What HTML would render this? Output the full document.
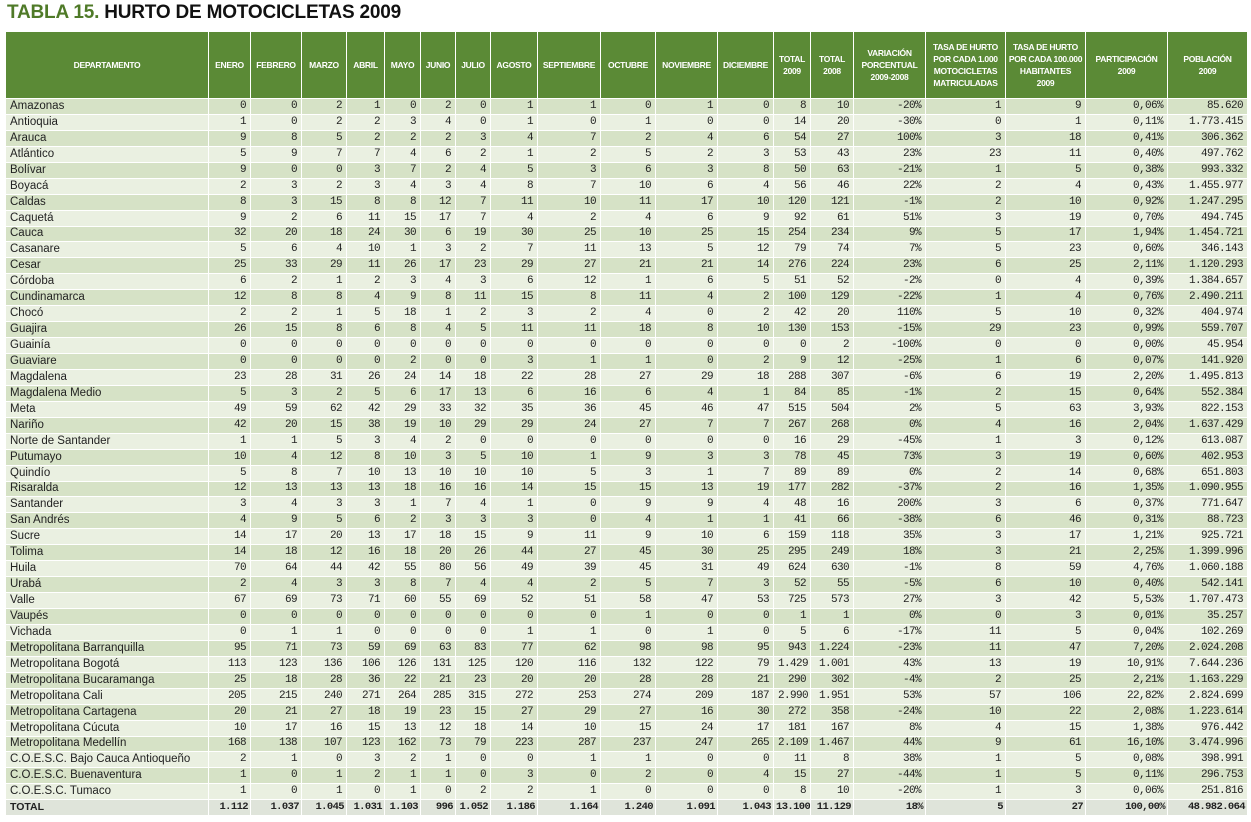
<!DOCTYPE html>
<html><head><meta charset="utf-8"><style>
body{margin:0;width:1251px;height:822px;background:#fff;overflow:hidden;font-family:"Liberation Sans",sans-serif}
.t{position:absolute;left:7px;top:2px;font-size:19px;font-weight:bold;color:#111;letter-spacing:-0.2px}
.t span{color:#4f7a28}
table{position:absolute;left:5px;top:31px;width:1242px;table-layout:fixed;border-collapse:collapse}
td,th{box-sizing:border-box;border:1px solid #fff;padding:0 4px;white-space:nowrap;overflow:hidden}
th{background:#5b8a36;color:#fff;font-size:8.5px;height:67px;line-height:12px;font-weight:bold;letter-spacing:-0.3px;padding:0 1px}
td{height:15.95px;line-height:13px;font-size:11px;font-family:"Liberation Mono",monospace;text-align:right;color:#222;letter-spacing:-0.6px}
td:first-child{font-family:"Liberation Sans",sans-serif;text-align:left;font-size:11.5px;letter-spacing:0}
tr:nth-child(even) td{background:#d6e2c6}
tr:nth-child(odd) td{background:#eaf0e1}
tr.tot td{background:#dfe4da;font-weight:bold;font-size:10.5px;padding:0 2px}
tr.tot td:first-child{font-weight:bold;padding:0 4px}
</style></head><body>
<div class="t"><span>TABLA 15.</span> HURTO DE MOTOCICLETAS 2009</div>
<table>
<colgroup><col style="width:203px"><col style="width:42px"><col style="width:51px"><col style="width:45px"><col style="width:38px"><col style="width:36px"><col style="width:35px"><col style="width:35px"><col style="width:47px"><col style="width:63px"><col style="width:55px"><col style="width:62px"><col style="width:56px"><col style="width:37px"><col style="width:43px"><col style="width:72px"><col style="width:80px"><col style="width:80px"><col style="width:82px"><col style="width:80px"></colgroup>
<tr><th>DEPARTAMENTO</th><th>ENERO</th><th>FEBRERO</th><th>MARZO</th><th>ABRIL</th><th>MAYO</th><th>JUNIO</th><th>JULIO</th><th>AGOSTO</th><th>SEPTIEMBRE</th><th>OCTUBRE</th><th>NOVIEMBRE</th><th>DICIEMBRE</th><th>TOTAL<br>2009</th><th>TOTAL<br>2008</th><th>VARIACIÓN<br>PORCENTUAL<br>2009-2008</th><th>TASA DE HURTO<br>POR CADA 1.000<br>MOTOCICLETAS<br>MATRICULADAS</th><th>TASA DE HURTO<br>POR CADA 100.000<br>HABITANTES<br>2009</th><th>PARTICIPACIÓN<br>2009</th><th>POBLACIÓN<br>2009</th></tr>
<tr><td>Amazonas</td><td>0</td><td>0</td><td>2</td><td>1</td><td>0</td><td>2</td><td>0</td><td>1</td><td>1</td><td>0</td><td>1</td><td>0</td><td>8</td><td>10</td><td>-20%</td><td>1</td><td>9</td><td>0,06%</td><td>85.620</td></tr>
<tr><td>Antioquia</td><td>1</td><td>0</td><td>2</td><td>2</td><td>3</td><td>4</td><td>0</td><td>1</td><td>0</td><td>1</td><td>0</td><td>0</td><td>14</td><td>20</td><td>-30%</td><td>0</td><td>1</td><td>0,11%</td><td>1.773.415</td></tr>
<tr><td>Arauca</td><td>9</td><td>8</td><td>5</td><td>2</td><td>2</td><td>2</td><td>3</td><td>4</td><td>7</td><td>2</td><td>4</td><td>6</td><td>54</td><td>27</td><td>100%</td><td>3</td><td>18</td><td>0,41%</td><td>306.362</td></tr>
<tr><td>Atlántico</td><td>5</td><td>9</td><td>7</td><td>7</td><td>4</td><td>6</td><td>2</td><td>1</td><td>2</td><td>5</td><td>2</td><td>3</td><td>53</td><td>43</td><td>23%</td><td>23</td><td>11</td><td>0,40%</td><td>497.762</td></tr>
<tr><td>Bolívar</td><td>9</td><td>0</td><td>0</td><td>3</td><td>7</td><td>2</td><td>4</td><td>5</td><td>3</td><td>6</td><td>3</td><td>8</td><td>50</td><td>63</td><td>-21%</td><td>1</td><td>5</td><td>0,38%</td><td>993.332</td></tr>
<tr><td>Boyacá</td><td>2</td><td>3</td><td>2</td><td>3</td><td>4</td><td>3</td><td>4</td><td>8</td><td>7</td><td>10</td><td>6</td><td>4</td><td>56</td><td>46</td><td>22%</td><td>2</td><td>4</td><td>0,43%</td><td>1.455.977</td></tr>
<tr><td>Caldas</td><td>8</td><td>3</td><td>15</td><td>8</td><td>8</td><td>12</td><td>7</td><td>11</td><td>10</td><td>11</td><td>17</td><td>10</td><td>120</td><td>121</td><td>-1%</td><td>2</td><td>10</td><td>0,92%</td><td>1.247.295</td></tr>
<tr><td>Caquetá</td><td>9</td><td>2</td><td>6</td><td>11</td><td>15</td><td>17</td><td>7</td><td>4</td><td>2</td><td>4</td><td>6</td><td>9</td><td>92</td><td>61</td><td>51%</td><td>3</td><td>19</td><td>0,70%</td><td>494.745</td></tr>
<tr><td>Cauca</td><td>32</td><td>20</td><td>18</td><td>24</td><td>30</td><td>6</td><td>19</td><td>30</td><td>25</td><td>10</td><td>25</td><td>15</td><td>254</td><td>234</td><td>9%</td><td>5</td><td>17</td><td>1,94%</td><td>1.454.721</td></tr>
<tr><td>Casanare</td><td>5</td><td>6</td><td>4</td><td>10</td><td>1</td><td>3</td><td>2</td><td>7</td><td>11</td><td>13</td><td>5</td><td>12</td><td>79</td><td>74</td><td>7%</td><td>5</td><td>23</td><td>0,60%</td><td>346.143</td></tr>
<tr><td>Cesar</td><td>25</td><td>33</td><td>29</td><td>11</td><td>26</td><td>17</td><td>23</td><td>29</td><td>27</td><td>21</td><td>21</td><td>14</td><td>276</td><td>224</td><td>23%</td><td>6</td><td>25</td><td>2,11%</td><td>1.120.293</td></tr>
<tr><td>Córdoba</td><td>6</td><td>2</td><td>1</td><td>2</td><td>3</td><td>4</td><td>3</td><td>6</td><td>12</td><td>1</td><td>6</td><td>5</td><td>51</td><td>52</td><td>-2%</td><td>0</td><td>4</td><td>0,39%</td><td>1.384.657</td></tr>
<tr><td>Cundinamarca</td><td>12</td><td>8</td><td>8</td><td>4</td><td>9</td><td>8</td><td>11</td><td>15</td><td>8</td><td>11</td><td>4</td><td>2</td><td>100</td><td>129</td><td>-22%</td><td>1</td><td>4</td><td>0,76%</td><td>2.490.211</td></tr>
<tr><td>Chocó</td><td>2</td><td>2</td><td>1</td><td>5</td><td>18</td><td>1</td><td>2</td><td>3</td><td>2</td><td>4</td><td>0</td><td>2</td><td>42</td><td>20</td><td>110%</td><td>5</td><td>10</td><td>0,32%</td><td>404.974</td></tr>
<tr><td>Guajira</td><td>26</td><td>15</td><td>8</td><td>6</td><td>8</td><td>4</td><td>5</td><td>11</td><td>11</td><td>18</td><td>8</td><td>10</td><td>130</td><td>153</td><td>-15%</td><td>29</td><td>23</td><td>0,99%</td><td>559.707</td></tr>
<tr><td>Guainía</td><td>0</td><td>0</td><td>0</td><td>0</td><td>0</td><td>0</td><td>0</td><td>0</td><td>0</td><td>0</td><td>0</td><td>0</td><td>0</td><td>2</td><td>-100%</td><td>0</td><td>0</td><td>0,00%</td><td>45.954</td></tr>
<tr><td>Guaviare</td><td>0</td><td>0</td><td>0</td><td>0</td><td>2</td><td>0</td><td>0</td><td>3</td><td>1</td><td>1</td><td>0</td><td>2</td><td>9</td><td>12</td><td>-25%</td><td>1</td><td>6</td><td>0,07%</td><td>141.920</td></tr>
<tr><td>Magdalena</td><td>23</td><td>28</td><td>31</td><td>26</td><td>24</td><td>14</td><td>18</td><td>22</td><td>28</td><td>27</td><td>29</td><td>18</td><td>288</td><td>307</td><td>-6%</td><td>6</td><td>19</td><td>2,20%</td><td>1.495.813</td></tr>
<tr><td>Magdalena Medio</td><td>5</td><td>3</td><td>2</td><td>5</td><td>6</td><td>17</td><td>13</td><td>6</td><td>16</td><td>6</td><td>4</td><td>1</td><td>84</td><td>85</td><td>-1%</td><td>2</td><td>15</td><td>0,64%</td><td>552.384</td></tr>
<tr><td>Meta</td><td>49</td><td>59</td><td>62</td><td>42</td><td>29</td><td>33</td><td>32</td><td>35</td><td>36</td><td>45</td><td>46</td><td>47</td><td>515</td><td>504</td><td>2%</td><td>5</td><td>63</td><td>3,93%</td><td>822.153</td></tr>
<tr><td>Nariño</td><td>42</td><td>20</td><td>15</td><td>38</td><td>19</td><td>10</td><td>29</td><td>29</td><td>24</td><td>27</td><td>7</td><td>7</td><td>267</td><td>268</td><td>0%</td><td>4</td><td>16</td><td>2,04%</td><td>1.637.429</td></tr>
<tr><td>Norte de Santander</td><td>1</td><td>1</td><td>5</td><td>3</td><td>4</td><td>2</td><td>0</td><td>0</td><td>0</td><td>0</td><td>0</td><td>0</td><td>16</td><td>29</td><td>-45%</td><td>1</td><td>3</td><td>0,12%</td><td>613.087</td></tr>
<tr><td>Putumayo</td><td>10</td><td>4</td><td>12</td><td>8</td><td>10</td><td>3</td><td>5</td><td>10</td><td>1</td><td>9</td><td>3</td><td>3</td><td>78</td><td>45</td><td>73%</td><td>3</td><td>19</td><td>0,60%</td><td>402.953</td></tr>
<tr><td>Quindío</td><td>5</td><td>8</td><td>7</td><td>10</td><td>13</td><td>10</td><td>10</td><td>10</td><td>5</td><td>3</td><td>1</td><td>7</td><td>89</td><td>89</td><td>0%</td><td>2</td><td>14</td><td>0,68%</td><td>651.803</td></tr>
<tr><td>Risaralda</td><td>12</td><td>13</td><td>13</td><td>13</td><td>18</td><td>16</td><td>16</td><td>14</td><td>15</td><td>15</td><td>13</td><td>19</td><td>177</td><td>282</td><td>-37%</td><td>2</td><td>16</td><td>1,35%</td><td>1.090.955</td></tr>
<tr><td>Santander</td><td>3</td><td>4</td><td>3</td><td>3</td><td>1</td><td>7</td><td>4</td><td>1</td><td>0</td><td>9</td><td>9</td><td>4</td><td>48</td><td>16</td><td>200%</td><td>3</td><td>6</td><td>0,37%</td><td>771.647</td></tr>
<tr><td>San Andrés</td><td>4</td><td>9</td><td>5</td><td>6</td><td>2</td><td>3</td><td>3</td><td>3</td><td>0</td><td>4</td><td>1</td><td>1</td><td>41</td><td>66</td><td>-38%</td><td>6</td><td>46</td><td>0,31%</td><td>88.723</td></tr>
<tr><td>Sucre</td><td>14</td><td>17</td><td>20</td><td>13</td><td>17</td><td>18</td><td>15</td><td>9</td><td>11</td><td>9</td><td>10</td><td>6</td><td>159</td><td>118</td><td>35%</td><td>3</td><td>17</td><td>1,21%</td><td>925.721</td></tr>
<tr><td>Tolima</td><td>14</td><td>18</td><td>12</td><td>16</td><td>18</td><td>20</td><td>26</td><td>44</td><td>27</td><td>45</td><td>30</td><td>25</td><td>295</td><td>249</td><td>18%</td><td>3</td><td>21</td><td>2,25%</td><td>1.399.996</td></tr>
<tr><td>Huila</td><td>70</td><td>64</td><td>44</td><td>42</td><td>55</td><td>80</td><td>56</td><td>49</td><td>39</td><td>45</td><td>31</td><td>49</td><td>624</td><td>630</td><td>-1%</td><td>8</td><td>59</td><td>4,76%</td><td>1.060.188</td></tr>
<tr><td>Urabá</td><td>2</td><td>4</td><td>3</td><td>3</td><td>8</td><td>7</td><td>4</td><td>4</td><td>2</td><td>5</td><td>7</td><td>3</td><td>52</td><td>55</td><td>-5%</td><td>6</td><td>10</td><td>0,40%</td><td>542.141</td></tr>
<tr><td>Valle</td><td>67</td><td>69</td><td>73</td><td>71</td><td>60</td><td>55</td><td>69</td><td>52</td><td>51</td><td>58</td><td>47</td><td>53</td><td>725</td><td>573</td><td>27%</td><td>3</td><td>42</td><td>5,53%</td><td>1.707.473</td></tr>
<tr><td>Vaupés</td><td>0</td><td>0</td><td>0</td><td>0</td><td>0</td><td>0</td><td>0</td><td>0</td><td>0</td><td>1</td><td>0</td><td>0</td><td>1</td><td>1</td><td>0%</td><td>0</td><td>3</td><td>0,01%</td><td>35.257</td></tr>
<tr><td>Vichada</td><td>0</td><td>1</td><td>1</td><td>0</td><td>0</td><td>0</td><td>0</td><td>1</td><td>1</td><td>0</td><td>1</td><td>0</td><td>5</td><td>6</td><td>-17%</td><td>11</td><td>5</td><td>0,04%</td><td>102.269</td></tr>
<tr><td>Metropolitana Barranquilla</td><td>95</td><td>71</td><td>73</td><td>59</td><td>69</td><td>63</td><td>83</td><td>77</td><td>62</td><td>98</td><td>98</td><td>95</td><td>943</td><td>1.224</td><td>-23%</td><td>11</td><td>47</td><td>7,20%</td><td>2.024.208</td></tr>
<tr><td>Metropolitana Bogotá</td><td>113</td><td>123</td><td>136</td><td>106</td><td>126</td><td>131</td><td>125</td><td>120</td><td>116</td><td>132</td><td>122</td><td>79</td><td>1.429</td><td>1.001</td><td>43%</td><td>13</td><td>19</td><td>10,91%</td><td>7.644.236</td></tr>
<tr><td>Metropolitana Bucaramanga</td><td>25</td><td>18</td><td>28</td><td>36</td><td>22</td><td>21</td><td>23</td><td>20</td><td>20</td><td>28</td><td>28</td><td>21</td><td>290</td><td>302</td><td>-4%</td><td>2</td><td>25</td><td>2,21%</td><td>1.163.229</td></tr>
<tr><td>Metropolitana Cali</td><td>205</td><td>215</td><td>240</td><td>271</td><td>264</td><td>285</td><td>315</td><td>272</td><td>253</td><td>274</td><td>209</td><td>187</td><td>2.990</td><td>1.951</td><td>53%</td><td>57</td><td>106</td><td>22,82%</td><td>2.824.699</td></tr>
<tr><td>Metropolitana Cartagena</td><td>20</td><td>21</td><td>27</td><td>18</td><td>19</td><td>23</td><td>15</td><td>27</td><td>29</td><td>27</td><td>16</td><td>30</td><td>272</td><td>358</td><td>-24%</td><td>10</td><td>22</td><td>2,08%</td><td>1.223.614</td></tr>
<tr><td>Metropolitana Cúcuta</td><td>10</td><td>17</td><td>16</td><td>15</td><td>13</td><td>12</td><td>18</td><td>14</td><td>10</td><td>15</td><td>24</td><td>17</td><td>181</td><td>167</td><td>8%</td><td>4</td><td>15</td><td>1,38%</td><td>976.442</td></tr>
<tr><td>Metropolitana Medellín</td><td>168</td><td>138</td><td>107</td><td>123</td><td>162</td><td>73</td><td>79</td><td>223</td><td>287</td><td>237</td><td>247</td><td>265</td><td>2.109</td><td>1.467</td><td>44%</td><td>9</td><td>61</td><td>16,10%</td><td>3.474.996</td></tr>
<tr><td>C.O.E.S.C. Bajo Cauca Antioqueño</td><td>2</td><td>1</td><td>0</td><td>3</td><td>2</td><td>1</td><td>0</td><td>0</td><td>1</td><td>1</td><td>0</td><td>0</td><td>11</td><td>8</td><td>38%</td><td>1</td><td>5</td><td>0,08%</td><td>398.991</td></tr>
<tr><td>C.O.E.S.C. Buenaventura</td><td>1</td><td>0</td><td>1</td><td>2</td><td>1</td><td>1</td><td>0</td><td>3</td><td>0</td><td>2</td><td>0</td><td>4</td><td>15</td><td>27</td><td>-44%</td><td>1</td><td>5</td><td>0,11%</td><td>296.753</td></tr>
<tr><td>C.O.E.S.C. Tumaco</td><td>1</td><td>0</td><td>1</td><td>0</td><td>1</td><td>0</td><td>2</td><td>2</td><td>1</td><td>0</td><td>0</td><td>0</td><td>8</td><td>10</td><td>-20%</td><td>1</td><td>3</td><td>0,06%</td><td>251.816</td></tr>
<tr class="tot"><td>TOTAL</td><td>1.112</td><td>1.037</td><td>1.045</td><td>1.031</td><td>1.103</td><td>996</td><td>1.052</td><td>1.186</td><td>1.164</td><td>1.240</td><td>1.091</td><td>1.043</td><td>13.100</td><td>11.129</td><td>18%</td><td>5</td><td>27</td><td>100,00%</td><td>48.982.064</td></tr>
</table>
</body></html>
